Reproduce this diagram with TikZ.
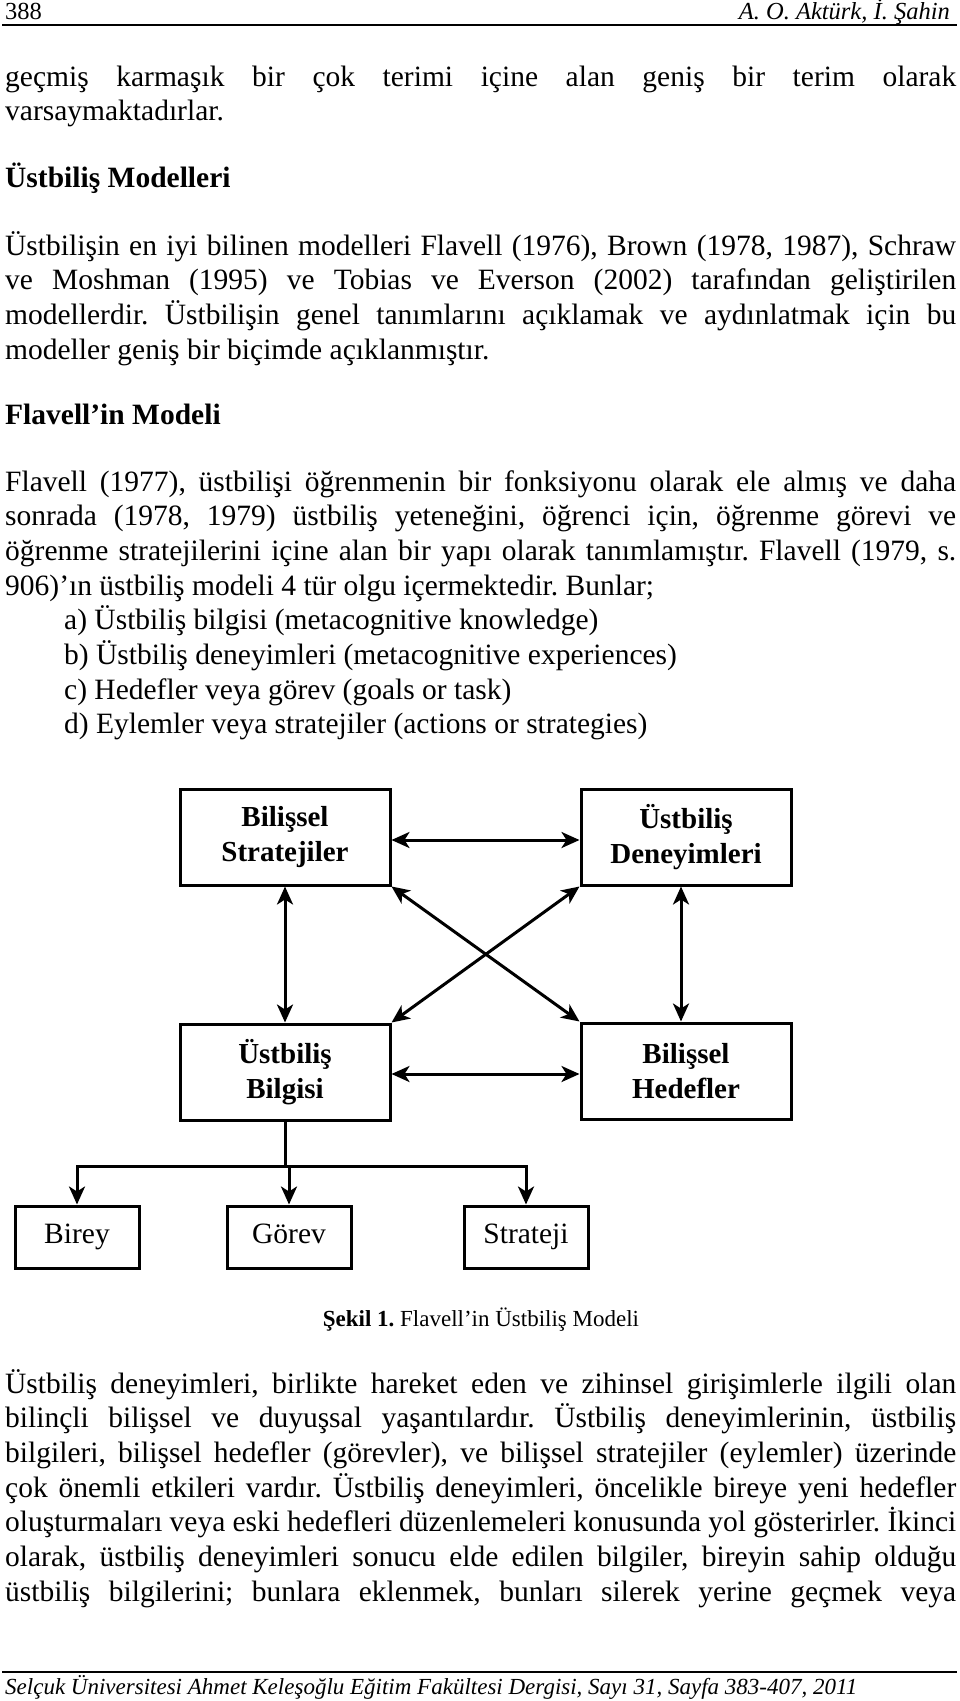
\documentclass[tikz,border=0pt]{standalone}
\usepackage{fontspec}
\setmainfont{Liberation Serif}
\usetikzlibrary{arrows.meta}
\frenchspacing
\newcommand\bodyfnt{\fontsize{29.5}{35}\selectfont}
\newcommand\boxfnt{\fontsize{29}{35}\selectfont\bfseries}
\newcommand\smallfnt{\fontsize{24.5}{28}\selectfont}
\newcommand\capfnt{\fontsize{23}{27}\selectfont}
\newcommand\footfnt{\fontsize{23}{27}\selectfont\itshape}
\newcommand\jline[1]{\makebox[951pt][s]{#1}}
\begin{document}
\begin{tikzpicture}[x=1pt,y=-1pt,
  txt/.style={anchor=base west, inner sep=0pt, font=\bodyfnt},
  hdg/.style={anchor=base west, inner sep=0pt, font=\bodyfnt\bfseries},
  box/.style={draw, line width=3pt, minimum width=210pt, minimum height=96pt, align=center, inner sep=0pt, font=\boxfnt},
  sbox/.style={draw, line width=3pt, minimum width=124pt, minimum height=62pt, inner sep=0pt, text height=20pt, text depth=7pt, font=\bodyfnt},
  tip/.tip={Stealth[length=18pt,width=16pt,inset=5pt]},
  arr/.style={line width=3pt, -tip},
  darr/.style={line width=3pt, tip-tip},
  ln/.style={line width=3pt, line cap=rect}]
\fill[white] (0,0) rectangle (960,1701);
\path[use as bounding box] (0,0) rectangle (960,1701);
% header
\node[anchor=base west, inner sep=0pt, font=\smallfnt] (pg) at (5,19) {388};
\node[anchor=base east, inner sep=0pt, font=\smallfnt\itshape] (au) at (950,19) {A. O. Aktürk, İ. Şahin};
\coordinate (hr1) at (2,25);
\coordinate (hr2) at (957,25);
\draw[line width=1.6pt] (hr1) -- (hr2);
% first text
\node[txt] (t1) at (5,86) {\jline{geçmiş karmaşık bir çok terimi içine alan geniş bir terim olarak}};
\node[txt] (t2) at (5,120.7) {varsaymaktadırlar.};
\node[hdg] (h1) at (5,187) {Üstbiliş Modelleri};
\node[txt] (p11) at (5,255) {\jline{Üstbilişin en iyi bilinen modelleri Flavell (1976), Brown (1978, 1987), Schraw}};
\node[txt] (p12) at (5,289.7) {\jline{ve Moshman (1995) ve Tobias ve Everson (2002) tarafından geliştirilen}};
\node[txt] (p13) at (5,324.4) {\jline{modellerdir. Üstbilişin genel tanımlarını açıklamak ve aydınlatmak için bu}};
\node[txt] (p14) at (5,359.1) {modeller geniş bir biçimde açıklanmıştır.};
\node[hdg] (h2) at (5,424) {Flavell’in Modeli};
\node[txt] (p21) at (5,491) {\jline{Flavell (1977), üstbilişi öğrenmenin bir fonksiyonu olarak ele almış ve daha}};
\node[txt] (p22) at (5,525.7) {\jline{sonrada (1978, 1979) üstbiliş yeteneğini, öğrenci için, öğrenme görevi ve}};
\node[txt] (p23) at (5,560.4) {\jline{öğrenme stratejilerini içine alan bir yapı olarak tanımlamıştır. Flavell (1979, s.}};
\node[txt] (p24) at (5,595.1) {906)’ın üstbiliş modeli 4 tür olgu içermektedir. Bunlar;};
\node[txt] (la) at (64,629.8) {a) Üstbiliş bilgisi (metacognitive knowledge)};
\node[txt] (lb) at (64,664.5) {b) Üstbiliş deneyimleri (metacognitive experiences)};
\node[txt] (lc) at (64,699.2) {c) Hedefler veya görev (goals or task)};
\node[txt] (ld) at (64,733.9) {d) Eylemler veya stratejiler (actions or strategies)};
% diagram
\node[box] (BS) at (285,837) {Bilişsel\\Stratejiler};
\node[box] (UD) at (686,837) {Üstbiliş\\Deneyimleri};
\node[box] (UB) at (285,1072) {Üstbiliş\\Bilgisi};
\node[box] (BH) at (686,1071) {Bilişsel\\Hedefler};
\coordinate (ya) at (0,840);
\coordinate (yb) at (0,1074);
\coordinate (xr) at (681,0);
\draw[darr] (BS.east |- ya) -- (UD.west |- ya);
\draw[darr] (UB.east |- yb) -- (BH.west |- yb);
\draw[darr] (BS.south) -- (UB.north);
\draw[darr] (xr |- UD.south) -- (xr |- BH.north);
\draw[darr] (BS.south east) -- (BH.north west);
\draw[darr] (UD.south west) -- (UB.north east);
\node[sbox] (Bi) at (77,1237) {Birey};
\node[sbox] (Go) at (289,1237) {Görev};
\node[sbox] (St) at (526,1237) {Strateji};
\coordinate (hb) at (0,1166);
\draw[ln] (UB.south) -- (UB.south |- hb);
\draw[ln] (Bi.north |- hb) -- (St.north |- hb);
\draw[arr] (Bi.north |- hb) -- (Bi.north);
\draw[arr] (Go.north |- hb) -- (Go.north);
\draw[arr] (St.north |- hb) -- (St.north);
\node[anchor=base, inner sep=0pt, font=\capfnt] (cap) at (481,1326) {\textbf{Şekil 1.} Flavell’in Üstbiliş Modeli};
% last paragraph
\node[txt] (p31) at (5,1393) {\jline{Üstbiliş deneyimleri, birlikte hareket eden ve zihinsel girişimlerle ilgili olan}};
\node[txt] (p32) at (5,1427.7) {\jline{bilinçli bilişsel ve duyuşsal yaşantılardır. Üstbiliş deneyimlerinin, üstbiliş}};
\node[txt] (p33) at (5,1462.4) {\jline{bilgileri, bilişsel hedefler (görevler), ve bilişsel stratejiler (eylemler) üzerinde}};
\node[txt] (p34) at (5,1497.1) {\jline{çok önemli etkileri vardır. Üstbiliş deneyimleri, öncelikle bireye yeni hedefler}};
\node[txt] (p35) at (5,1531.8) {\jline{oluşturmaları veya eski hedefleri düzenlemeleri konusunda yol gösterirler. İkinci}};
\node[txt] (p36) at (5,1566.5) {\jline{olarak, üstbiliş deneyimleri sonucu elde edilen bilgiler, bireyin sahip olduğu}};
\node[txt] (p37) at (5,1601.2) {\jline{üstbiliş bilgilerini; bunlara eklenmek, bunları silerek yerine geçmek veya}};
% footer
\coordinate (fr1) at (2,1672);
\coordinate (fr2) at (957,1672);
\draw[line width=1.8pt] (fr1) -- (fr2);
\node[anchor=base west, inner sep=0pt, font=\footfnt] (ft) at (5,1694) {Selçuk Üniversitesi Ahmet Keleşoğlu Eğitim Fakültesi Dergisi, Sayı 31, Sayfa 383-407, 2011};
\end{tikzpicture}
\end{document}
